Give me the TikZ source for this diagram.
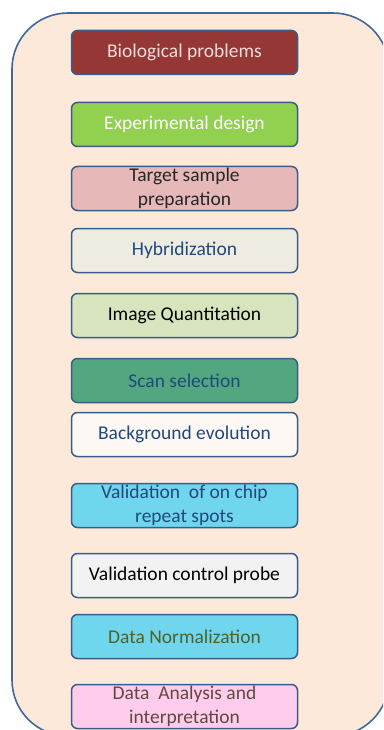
\documentclass[tikz,border=0pt]{standalone}
\usepackage{fontspec}
\setmainfont{Carlito}
\usetikzlibrary{positioning}

\definecolor{edgeblue}{HTML}{385D8A}
\definecolor{frameblue}{HTML}{41689A}
\definecolor{peach}{HTML}{FDE9D9}
\definecolor{txtblue}{HTML}{1F497D}

\begin{document}
\begin{tikzpicture}[
    x=1pt, y=-1pt,
    node distance=20pt,
    stepbox/.style={rectangle, rounded corners=6pt, draw=edgeblue, line width=1.5pt,
                minimum width=226pt, minimum height=44pt, inner sep=1pt, outer sep=0pt,
                align=center, font=\fontsize{19.5}{23.5}\selectfont},
    frame/.style={draw=frameblue, fill=peach, line width=1.6pt, rounded corners=56pt}
]
    \clip (0,0) rectangle (383,730);
    \useasboundingbox (0,0) rectangle (383,730);

    % background panel
    \draw[frame] (12,13) rectangle (389,736);

    \node[stepbox, fill={rgb,255:red,149;green,55;blue,53}, text={rgb,255:red,242;green,220;blue,219}]
        (bio) at (184.5,52.5) {Biological problems};
    \node[stepbox, fill={rgb,255:red,146;green,208;blue,80}, text=white, below=28pt of bio]
        (exp) {Experimental design};
    \node[stepbox, fill={rgb,255:red,230;green,185;blue,184}, text={rgb,255:red,38;green,38;blue,38}, below=20pt of exp]
        (target) {Target sample\\preparation};
    \node[stepbox, fill={rgb,255:red,238;green,236;blue,225}, text=txtblue, below=18pt of target]
        (hyb) {Hybridization};
    \node[stepbox, fill={rgb,255:red,215;green,228;blue,189}, text=black, below=21pt of hyb]
        (quant) {Image Quantitation};
    \node[stepbox, fill={rgb,255:red,82;green,166;blue,128}, text=txtblue, below=21pt of quant]
        (scan) {Scan selection};
    \node[stepbox, fill={rgb,255:red,253;green,248;blue,244}, text=txtblue, below=10pt of scan]
        (backgr) {Background evolution};
    \node[stepbox, fill={rgb,255:red,112;green,214;blue,238}, text=txtblue, below=27pt of backgr]
        (chip) {Validation\ \ of on chip\\repeat spots};
    \node[stepbox, fill={rgb,255:red,242;green,242;blue,242}, text=black, below=26pt of chip]
        (probe) {Validation control probe};
    \node[stepbox, fill={rgb,255:red,112;green,214;blue,238}, text={rgb,255:red,79;green,98;blue,40}, below=17pt of probe]
        (norm) {Data Normalization};
    \node[stepbox, fill={rgb,255:red,255;green,204;blue,238}, text={rgb,255:red,96;green,74;blue,60}, below=26pt of norm]
        (analysis) {Data\ \ Analysis and\\interpretation};
\end{tikzpicture}
\end{document}
